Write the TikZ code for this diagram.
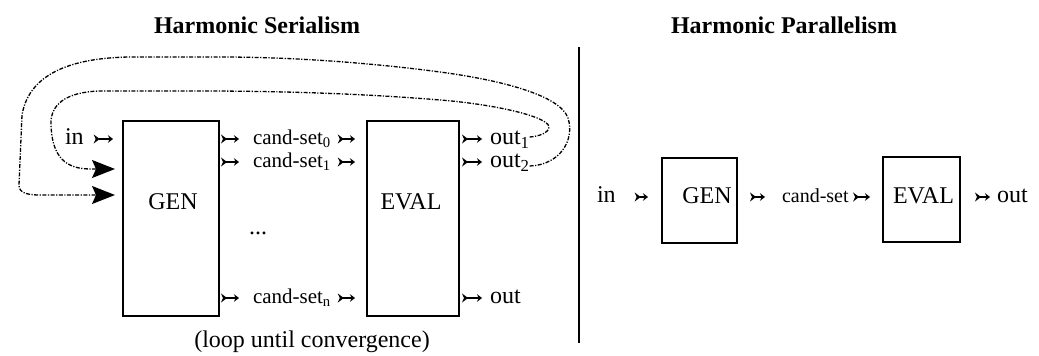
\documentclass[tikz,border=0pt]{standalone}
\usepackage{fontspec}
\setmainfont{Liberation Serif}
\usetikzlibrary{arrows.meta}
\begin{document}
\begin{tikzpicture}[x=1pt,y=-1pt,
  every node/.style={inner sep=0pt, outer sep=0pt},
  box/.style={draw, line width=1.4pt},
  big/.style={font=\fontsize{24}{24}\selectfont},
  mid/.style={font=\fontsize{21}{21}\selectfont},
  sml/.style={font=\fontsize{20}{20}\selectfont},
  ttl/.style={font=\fontsize{24}{24}\selectfont\bfseries},
  fl/.style={line width=1.6pt, {Stealth[reversed,length=6pt,width=9pt,inset=2pt]}-{Stealth[length=5pt,width=7.5pt]}},
  loopline/.style={line width=1.3pt, dash pattern=on 4pt off 1.5pt on 1.2pt off 1.5pt, -{Stealth[length=23pt,width=18pt,inset=4pt]}},
]
\useasboundingbox (0,0) rectangle (1039,356);

% titles
\node[ttl] (t1) at (257,25) {Harmonic Serialism};
\node[ttl] (t2) at (784,25) {Harmonic Parallelism};

% divider
\coordinate (dtop) at (579,47);
\coordinate (dbot) at (579,343);
\draw[line width=1.8pt] (dtop) -- (dbot);

% ---------- serialism ----------
\coordinate (r0) at (0,139);
\coordinate (r1) at (0,162);
\coordinate (rn) at (0,298);

\node[box, minimum width=96pt, minimum height=195pt] (gen) at (171,218.5) {};
\node[box, minimum width=92pt, minimum height=195pt] (eval) at (413,218.5) {};
\node[big] (genl) at (173,202) {GEN};
\node[big] (evall) at (411,202) {EVAL};

\node[big, anchor=base west] (in1) at (65,144.5) {in};
\node[mid, anchor=base west] (cs0) at (253,144.5) {cand-set\textsubscript{0}};
\node[mid, anchor=base west] (cs1) at (253,167.5) {cand-set\textsubscript{1}};
\node[big] (dots) at (258,233) {...};
\node[mid, anchor=base west] (csn) at (253,303.5) {cand-set\textsubscript{n}};
\node[big, anchor=base west] (o1) at (490,144.5) {out\textsubscript{1}};
\node[big, anchor=base west] (o2) at (490,167.5) {out\textsubscript{2}};
\node[big, anchor=base west] (o3) at (490,303.5) {out};

\node[big] (loopl) at (312,342) {(loop until convergence)};

\draw[fl, shorten <=10pt, shorten >=10pt] (in1.east |- r0) -- (gen.west |- r0);
\draw[fl, shorten <=2pt, shorten >=14pt] (gen.east |- r0) -- (cs0.west |- r0);
\draw[fl, shorten <=7pt, shorten >=12pt] (cs0.east |- r0) -- (eval.west |- r0);
\draw[fl, shorten <=2pt, shorten >=14pt] (gen.east |- r1) -- (cs1.west |- r1);
\draw[fl, shorten <=7pt, shorten >=12pt] (cs1.east |- r1) -- (eval.west |- r1);
\draw[fl, shorten <=2pt, shorten >=14pt] (gen.east |- rn) -- (csn.west |- rn);
\draw[fl, shorten <=7pt, shorten >=12pt] (csn.east |- rn) -- (eval.west |- rn);
\draw[fl, shorten <=3pt, shorten >=8pt] (eval.east |- r0) -- (o1.west |- r0);
\draw[fl, shorten <=3pt, shorten >=8pt] (eval.east |- r1) -- (o2.west |- r1);
\draw[fl, shorten <=3pt, shorten >=8pt] (eval.east |- rn) -- (o3.west |- rn);

% feedback loops
\draw[loopline, shorten >=8pt] (o2.east |- 0,166) .. controls (560,165) and (575,140) .. (568,118)
  .. controls (560,95) and (500,80) .. (440,72)
  .. controls (380,64) and (300,57) .. (220,57) -- (130,57)
  .. controls (60,58) and (28,80) .. (22,115) -- (19,185)
  .. controls (19,192) and (25,195) .. (40,195) -- (gen.west |- 0,195);
\draw[loopline, shorten >=8pt] (o1.east |- 0,137) .. controls (545,136) and (555,128) .. (545,122)
  .. controls (530,112) and (480,103) .. (440,100)
  .. controls (380,95) and (300,91) .. (200,91) -- (100,91)
  .. controls (65,92) and (50,105) .. (51,125)
  .. controls (52,150) and (60,169) .. (90,169) -- (gen.west |- 0,169);

% ---------- parallelism ----------
\coordinate (rp) at (0,197);
\node[big, anchor=base west] (in2) at (597,202.5) {in};
\node[box, line width=1.8pt, minimum width=75pt, minimum height=85pt] (gen2) at (699.5,200.5) {};
\node[big] (gen2l) at (707,196) {GEN};
\node[sml, anchor=base west] (cs2) at (782,202) {cand-set};
\node[box, line width=1.8pt, minimum width=77pt, minimum height=85pt] (eval2) at (921.5,199.5) {};
\node[big] (eval2l) at (923.5,196) {EVAL};
\node[big, anchor=base west] (o4) at (997,202.5) {out};

\draw[fl, shorten <=19pt, shorten >=14pt] (in2.east |- rp) -- (gen2.west |- rp);
\draw[fl, shorten <=13pt, shorten >=17pt] (gen2.east |- rp) -- (cs2.west |- rp);
\draw[fl, shorten <=4.5pt, shorten >=13pt] (cs2.east |- rp) -- (eval2.west |- rp);
\draw[fl, shorten <=15pt, shorten >=7pt] (eval2.east |- rp) -- (o4.west |- rp);
\end{tikzpicture}
\end{document}
